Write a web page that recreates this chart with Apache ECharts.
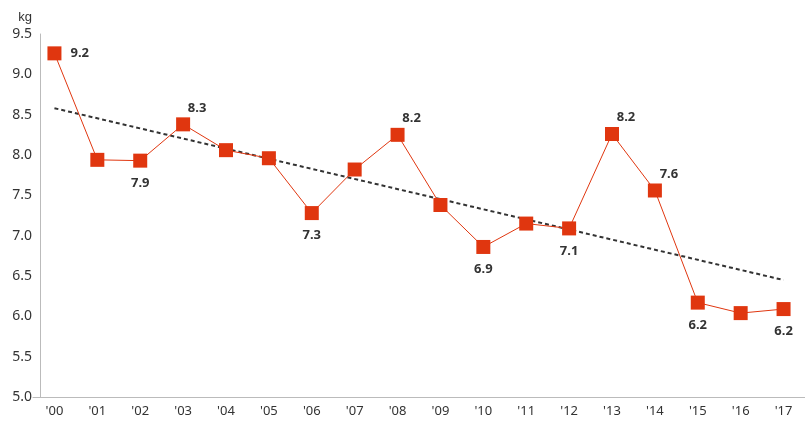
<!DOCTYPE html>
<html><head><meta charset="utf-8">
<script src="https://cdn.jsdelivr.net/npm/echarts@6/dist/echarts.min.js"></script>
<style>html,body{margin:0;background:#fff}#c{width:805px;height:427px}</style>
</head><body><div id="c"></div>
<script>
var years = ["'00","'01","'02","'03","'04","'05","'06","'07","'08","'09","'10","'11","'12","'13","'14","'15","'16","'17"];
var values = [9.26, 7.94, 7.93, 8.38, 8.06, 7.96, 7.28, 7.82, 8.25, 7.38, 6.86, 7.15, 7.09, 8.26, 7.56, 6.17, 6.04, 6.09];
var labels = ['9.2', '', '7.9', '8.3', '', '', '7.3', '', '8.2', '', '6.9', '', '7.1', '8.2', '7.6', '6.2', '', '6.2'];
var labelBelow = [false, false, true, false, false, false, true, false, false, false, true, false, true, false, false, true, false, true];
var trend = [8.58, null, null, null, null, null, null, null, null, null, null, null, null, null, null, null, null, 6.45];

var chart = echarts.init(document.getElementById('c'));
var pts = values.map(function (v, i) {
    var below = labelBelow[i];
    return {
        value: v,
        label: {
            show: labels[i] !== '',
            formatter: labels[i],
            position: below ? 'bottom' : (i === 0 ? 'right' : 'top'),
            offset: i === 0 ? [4, 0] : (below ? [0, 4] : [14, 2])
        }
    };
});
chart.setOption({
    animation: false,
    grid: { left: 33, right: -6, top: 34, bottom: 30 },
    xAxis: {
        type: 'category', data: years, boundaryGap: true,
        axisLine: { lineStyle: { color: '#bbb' } },
        axisTick: { show: false },
        axisLabel: { color: '#333', fontSize: 13, fontFamily: 'Noto Sans' }
    },
    yAxis: {
        type: 'value', min: 5, max: 9.5, interval: 0.5, offset: -7,
        name: 'kg', nameGap: 10, nameTextStyle: { color: '#333', fontSize: 13, align: 'right', padding: [0, 8, 0, 0] },
        axisLine: { show: true, lineStyle: { color: '#bbb' } },
        splitLine: { show: false },
        axisLabel: { color: '#333', fontSize: 14, fontFamily: 'Noto Sans', formatter: function (v) { return v.toFixed(1); } }
    },
    series: [
        {
            type: 'line', data: trend, connectNulls: true, symbol: 'none',
            lineStyle: { color: '#333', width: 2, type: [4, 3] }, z: 1
        },
        {
            type: 'line', data: pts, symbol: 'rect', symbolSize: 14,
            itemStyle: { color: '#e0360f' },
            lineStyle: { color: '#e0360f', width: 1 },
            label: { color: '#333', fontSize: 13, fontWeight: 'bold', fontFamily: 'Noto Sans' },
            z: 2
        }
    ]
});
</script></body></html>
